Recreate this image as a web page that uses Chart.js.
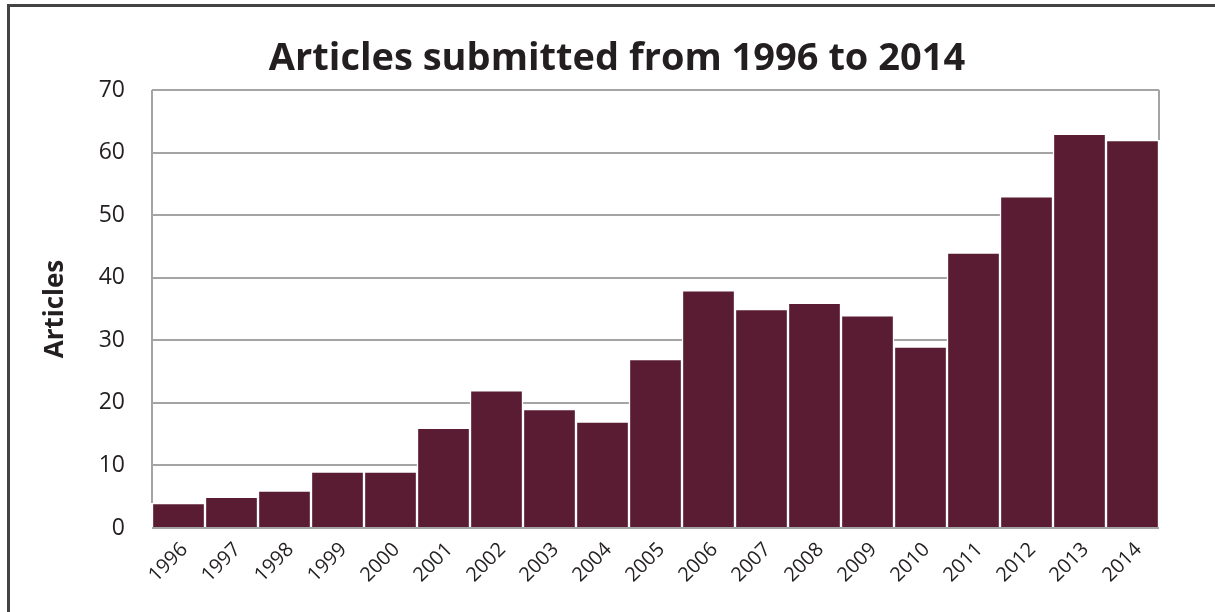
<!DOCTYPE html>
<html>
<head>
<meta charset="utf-8">
<title>Articles submitted from 1996 to 2014</title>
<script src="https://cdn.jsdelivr.net/npm/chart.js@4.4.1/dist/chart.umd.min.js"></script>
<style>
  html, body { margin: 0; padding: 0; background: #fff; }
  canvas { display: block; }
</style>
</head>
<body>
<canvas id="chart-articulos" width="1215" height="612"></canvas>
<script>
// Datos: artículos enviados por año
const anios = ['1996', '1997', '1998', '1999', '2000', '2001', '2002', '2003', '2004', '2005',
               '2006', '2007', '2008', '2009', '2010', '2011', '2012', '2013', '2014'];
const articulos = [4, 5, 6, 9, 9, 16, 22, 19, 17, 27, 38, 35, 36, 34, 29, 44, 53, 63, 62];
const ejeY = { min: 0, max: 70, paso: 10 };
const titulo = 'Articles submitted from 1996 to 2014';

const colorTexto = '#231f20';
const colorGrilla = '#a4a4a4';

// Marco exterior, título y líneas verticales del área (cortadas por la primera y última barra)
const marcoPlugin = {
    id: 'marco',
    beforeDraw(chart) {
        const ctx = chart.ctx;
        ctx.save();
        ctx.fillStyle = '#fff';
        ctx.fillRect(0, 0, chart.width, chart.height);
        ctx.strokeStyle = '#434343';
        ctx.lineWidth = 3;
        ctx.beginPath();
        ctx.moveTo(8.5, chart.height);
        ctx.lineTo(8.5, 5.5);
        ctx.lineTo(chart.width, 5.5);
        ctx.stroke();

        ctx.fillStyle = colorTexto;
        ctx.font = 'bold 38px "Open Sans"';
        ctx.textAlign = 'center';
        ctx.textBaseline = 'alphabetic';
        ctx.fillText(titulo, 617, 70);
        ctx.restore();
    },
    beforeDatasetsDraw(chart) {
        const ctx = chart.ctx;
        const area = chart.chartArea;
        const barras = chart.getDatasetMeta(0).data;
        ctx.save();
        ctx.strokeStyle = colorGrilla;
        ctx.lineWidth = 2;
        ctx.beginPath();
        ctx.moveTo(area.left, area.top);
        ctx.lineTo(area.left, barras[0].y);
        ctx.moveTo(area.right, area.top);
        ctx.lineTo(area.right, barras[barras.length - 1].y);
        ctx.stroke();
        ctx.restore();
    }
};

function crearGrafico() {
    const ctx = document.getElementById('chart-articulos').getContext('2d');

    new Chart(ctx, {
        type: 'bar',
        data: {
            labels: anios,
            datasets: [{
                label: 'Articles',
                data: articulos,
                backgroundColor: '#5a1c32',
                borderColor: '#ffffff',
                borderWidth: 1.5,
                borderSkipped: 'start',
                barPercentage: 1,
                categoryPercentage: 1
            }]
        },
        options: {
            responsive: false,
            animation: false,
            layout: { padding: { left: 0, right: 56, top: 90, bottom: 0 } },
            plugins: {
                legend: { display: false },
                tooltip: { enabled: false },
                title: { display: false }
            },
            scales: {
                x: {
                    grid: { display: false, drawTicks: false },
                    border: { display: false },
                    ticks: {
                        color: colorTexto,
                        font: { family: 'Open Sans', size: 20 },
                        minRotation: 45,
                        maxRotation: 45,
                        autoSkip: false,
                        labelOffset: 6,
                        padding: 10
                    },
                    afterFit(scale) { scale.height = 84; }
                },
                y: {
                    min: ejeY.min,
                    max: ejeY.max,
                    ticks: {
                        stepSize: ejeY.paso,
                        color: colorTexto,
                        font: { family: 'Open Sans', size: 23 },
                        padding: 27
                    },
                    grid: { color: colorGrilla, lineWidth: 2, drawTicks: false },
                    border: { display: false },
                    title: {
                        display: true,
                        text: 'Articles',
                        color: colorTexto,
                        font: { family: 'Open Sans', size: 26, weight: 'bold', lineHeight: 1.2 },
                        padding: { top: 40, bottom: 0 }
                    },
                    afterFit(scale) { scale.width = 152; }
                }
            }
        },
        plugins: [marcoPlugin]
    });
}

window.onload = crearGrafico;
</script>
</body>
</html>
